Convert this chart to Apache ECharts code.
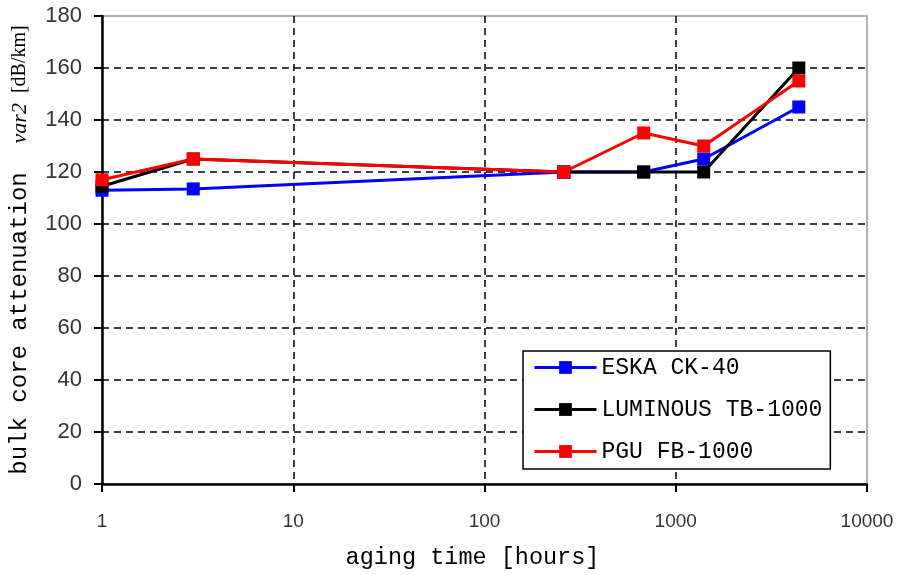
<!DOCTYPE html>
<html>
<head>
<meta charset="utf-8">
<script src="https://cdn.jsdelivr.net/npm/echarts@6/dist/echarts.min.js"></script>
<style>
html,body{margin:0;padding:0;background:#fff;}
#chart{width:903px;height:575px;}
</style>
</head>
<body>
<div id="chart"></div>
<script>
const hours = [1, 3, 260, 680, 1400, 4400];
const eska = [113, 113.5, 120, 120, 125, 145];
const luminous = [114.5, 125, 120, 120, 120, 160];
const pgu = [117, 125, 120, 135, 130, 155];
const seriesNames = ['ESKA CK-40', 'LUMINOUS TB-1000', 'PGU FB-1000'];
const seriesColors = ['#0000ff', '#000000', '#ff0000'];
const seriesValues = [eska, luminous, pgu];

const chart = echarts.init(document.getElementById('chart'), null, {renderer: 'canvas'});

const series = seriesValues.map((vals, i) => ({
  name: seriesNames[i],
  type: 'line',
  data: hours.map((h, j) => [h, vals[j]]),
  symbol: 'rect',
  symbolSize: 13,
  showSymbol: true,
  lineStyle: {color: seriesColors[i], width: 3},
  itemStyle: {color: seriesColors[i]},
  animation: false
}));

chart.setOption({
  backgroundColor: '#fff',
  animation: false,
  grid: {
    left: 100, right: 36, top: 16, bottom: 85,
    show: true, borderColor: '#999', borderWidth: 1.5, backgroundColor: 'transparent'
  },
  legend: {
    orient: 'vertical',
    left: 523, top: 351,
    data: seriesNames,
    backgroundColor: '#fff',
    borderColor: '#000',
    borderWidth: 1.5,
    borderRadius: 0,
    padding: [5, 8, 6, 10],
    itemGap: 19,
    itemWidth: 62,
    itemHeight: 16,
    lineStyle: {width: 3},
    textStyle: {fontFamily: 'Liberation Mono', fontSize: 23, color: '#000'}
  },
  xAxis: {
    type: 'log', logBase: 10, min: 1, max: 10000,
    name: 'aging time [hours]',
    nameLocation: 'middle', nameGap: 62,
    nameTextStyle: {fontFamily: 'Liberation Mono', fontSize: 23.5, color: '#000', padding: [0, 24, 0, 0]},
    axisLine: {show: true, lineStyle: {color: '#000', width: 2.5}},
    axisTick: {show: true, length: 8, lineStyle: {color: '#000', width: 2}},
    minorTick: {show: false},
    axisLabel: {fontFamily: 'Liberation Sans', fontSize: 19, color: '#333', margin: 28,
      formatter: function (v) { return String(v); }},
    splitLine: {show: true, showMinLine: false, showMaxLine: false, lineStyle: {color: '#000', type: [7, 5], width: 1.5}}
  },
  yAxis: {
    type: 'value', min: 0, max: 180, interval: 20,
    name: '{m|bulk core attenuation  }{i|var2}{s|  [dB/km]}',
    nameLocation: 'middle', nameGap: 70, nameRotate: 90,
    nameTextStyle: {
      rich: {
        m: {fontFamily: 'Liberation Mono', fontSize: 24, color: '#000'},
        i: {fontFamily: 'Liberation Serif', fontStyle: 'italic', fontSize: 22, color: '#000'},
        s: {fontFamily: 'Liberation Serif', fontSize: 20, color: '#000'}
      }
    },
    axisLine: {show: true, lineStyle: {color: '#000', width: 2.5}},
    axisTick: {show: true, length: 8, lineStyle: {color: '#000', width: 2}},
    axisLabel: {fontFamily: 'Liberation Sans', fontSize: 22, color: '#333', margin: 20},
    splitLine: {show: true, showMinLine: false, showMaxLine: false, lineStyle: {color: '#000', type: [7, 5], width: 1.5}}
  },
  series: series
});
</script>
</body>
</html>
